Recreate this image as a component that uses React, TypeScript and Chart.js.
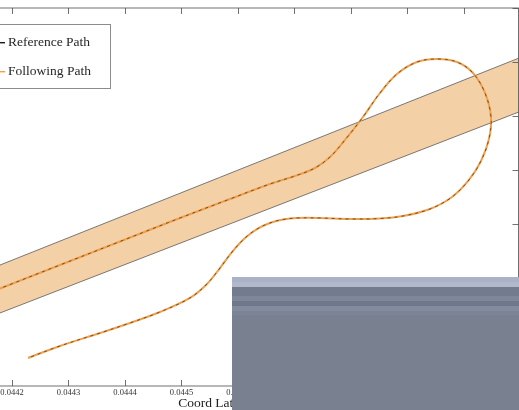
import React, { useEffect, useRef } from "react";
import { Chart, registerables } from "chart.js";

Chart.register(...registerables);

// x-axis tick values (Coord Latitude)
const xTicks = [0.0441, 0.0442, 0.0443, 0.0444, 0.0445, 0.0446, 0.0447, 0.0448, 0.0449, 0.045];
// y-axis tick values
const yTicks = [0, 0.0001, 0.0002, 0.0003, 0.0004, 0.0005, 0.0006, 0.0007];

// Path (reference path, followed by the vehicle)
const pathX = [
  0.044046, 0.0441788, 0.044285, 0.0443912, 0.0444973, 0.0445858, 0.0446566, 0.0447009,
  0.0447363, 0.0447628, 0.0447894, 0.0448212, 0.0448513, 0.0448814, 0.0449168, 0.0449522,
  0.0449876, 0.0450159, 0.0450372, 0.0450478, 0.0450442, 0.0450301, 0.0450088, 0.0449788,
  0.0449398, 0.044892, 0.0448513, 0.0447982, 0.0447451, 0.0447044, 0.0446796, 0.0446566,
  0.0446336, 0.0446124, 0.0445894, 0.0445681, 0.0445451, 0.044515, 0.0444619, 0.0444088,
  0.0443558, 0.044285, 0.0442283,
];
const pathY = [
  0.0001259, 0.0001806, 0.0002241, 0.0002676, 0.0003111, 0.0003463, 0.0003741, 0.0003889,
  0.0004037, 0.0004241, 0.0004556, 0.0004981, 0.0005426, 0.0005778, 0.0006, 0.0006056,
  0.0006, 0.0005796, 0.0005426, 0.0004981, 0.0004574, 0.0004167, 0.0003815, 0.00035,
  0.0003278, 0.0003148, 0.0003102, 0.0003093, 0.0003111, 0.0003111, 0.0003083, 0.0003019,
  0.0002907, 0.0002741, 0.0002481, 0.0002185, 0.0001889, 0.000163, 0.000137, 0.0001167,
  0.0000981, 0.0000741, 0.0000519,
];

// Tolerance corridor (band) corners
const bandX = [0.0440018, 0.0451699, 0.0451699, 0.0440018, 0.0440018];
const bandY = [0.0001502, 0.0006376, 0.0005369, 0.0000635, 0.0001502];

const X_MIN = 0.0440372;
const X_MAX = 0.0450965;
const Y_MIN = 0;
const Y_MAX = 0.0007;

const OFFSET = 100; // canvas shifted left so the plot's left part is off-page

const framePlugin = {
  id: "frame",
  afterDatasetsDraw(chart: any) {
    const { ctx, chartArea: a, scales } = chart;
    const x = scales.x;
    const y = scales.y;
    ctx.save();
    ctx.strokeStyle = "#4d4d4d";
    ctx.lineWidth = 0.8;
    ctx.strokeRect(a.left, a.top, a.right - a.left, a.bottom - a.top);
    ctx.beginPath();
    x.ticks.forEach((t: any) => {
      const px = Math.round(x.getPixelForValue(t.value)) + 0.5;
      ctx.moveTo(px, a.bottom);
      ctx.lineTo(px, a.bottom - 6);
      ctx.moveTo(px, a.top);
      ctx.lineTo(px, a.top + 6);
    });
    y.ticks.forEach((t: any) => {
      const py = Math.round(y.getPixelForValue(t.value)) + 0.5;
      ctx.moveTo(a.left, py);
      ctx.lineTo(a.left + 6, py);
      ctx.moveTo(a.right, py);
      ctx.lineTo(a.right - 6, py);
    });
    ctx.stroke();
    ctx.restore();
  },
};

const legendPlugin = {
  id: "boxLegend",
  afterDraw(chart: any) {
    const { ctx, chartArea: a } = chart;
    const items = chart.data.datasets.filter((d: any) => d.inLegend);
    const left = a.left + 6;
    const right = OFFSET + 110;
    const top = 24;
    const bottom = 88;
    ctx.save();
    ctx.fillStyle = "#ffffff";
    ctx.fillRect(left, top, right - left, bottom - top);
    ctx.strokeStyle = "#8c8c8c";
    ctx.lineWidth = 1;
    ctx.strokeRect(left + 0.5, top + 0.5, right - left, bottom - top);
    const rows = [42.7, 71.7];
    items.forEach((d: any, i: number) => {
      const yy = rows[i];
      ctx.strokeStyle = d.legendColor;
      ctx.lineWidth = 1.4;
      ctx.setLineDash([]);
      ctx.beginPath();
      ctx.moveTo(OFFSET - 22, yy);
      ctx.lineTo(OFFSET + 5, yy);
      ctx.stroke();
      ctx.fillStyle = "#262626";
      ctx.font = "13.5px 'Liberation Serif'";
      ctx.textBaseline = "middle";
      ctx.textAlign = "left";
      ctx.fillText(d.label, OFFSET + 8, yy);
    });
    ctx.restore();
  },
};

export default function App() {
  const ref = useRef<HTMLCanvasElement | null>(null);

  useEffect(() => {
    if (!ref.current) return;
    const pathData = pathX.map((v, i) => ({ x: v, y: pathY[i] }));
    const bandData = bandX.map((v, i) => ({ x: v, y: bandY[i] }));
    const chart = new Chart(ref.current, {
      type: "scatter",
      data: {
        datasets: [
          {
            label: "Reference Path",
            inLegend: true,
            legendColor: "#1a1a1a",
            data: pathData,
            showLine: true,
            borderColor: "#5a3815",
            borderWidth: 0.8,
            borderDash: [3, 4],
            pointRadius: 0,
            tension: 0.35,
            fill: false,
            order: 0,
          } as any,
          {
            label: "Following Path",
            inLegend: true,
            legendColor: "#ef9f45",
            data: pathData,
            showLine: true,
            borderColor: "#efa04c",
            borderWidth: 2,
            pointRadius: 0,
            tension: 0.35,
            fill: false,
            order: 1,
          } as any,
          {
            label: "Band",
            data: bandData,
            showLine: true,
            borderColor: "#5a5a5a",
            borderWidth: 0.8,
            backgroundColor: "rgb(243, 208, 166)",
            pointRadius: 0,
            tension: 0,
            fill: "shape",
            order: 2,
          } as any,
        ],
      },
      options: {
        animation: false,
        responsive: false,
        events: [],
        layout: { padding: { top: 8, left: 20, right: 0.5, bottom: 0 } },
        plugins: {
          legend: { display: false },
          tooltip: { enabled: false },
        },
        scales: {
          x: {
            type: "linear",
            min: X_MIN,
            max: X_MAX,
            afterBuildTicks: (s: any) => {
              s.ticks = xTicks.map((v) => ({ value: v }));
            },
            afterFit: (s: any) => {
              s.height = 24;
            },
            ticks: {
              autoSkip: false,
              maxRotation: 0,
              padding: 3,
              color: "#333",
              font: { family: "'Liberation Serif'", size: 8.5, lineHeight: 1 },
              callback: (v: any) => Number(v).toFixed(4),
            },
            grid: { display: false, drawTicks: false },
            border: { display: false },
            title: {
              display: true,
              text: "Coord Latitude",
              color: "#222",
              padding: 0,
              font: { family: "'Liberation Serif'", size: 13.5, lineHeight: 1 },
            },
          },
          y: {
            type: "linear",
            min: Y_MIN,
            max: Y_MAX,
            afterBuildTicks: (s: any) => {
              s.ticks = yTicks.map((v) => ({ value: v }));
            },
            ticks: { display: false },
            grid: { display: false, drawTicks: false },
            border: { display: false },
          },
        },
      },
      plugins: [framePlugin, legendPlugin],
    } as any);
    return () => chart.destroy();
  }, []);

  const overlay =
    "linear-gradient(to bottom, #a9b2c6 0px, #a9b2c6 5px, #b0b8ca 5px, #b0b8ca 10px, #737c8e 10px, #737c8e 19px, #7e8799 19px, #7e8799 24px, #6f788b 24px, #6f788b 29px, #838c9e 29px, #838c9e 34px, #7c8597 34px, #7c8597 38px, #79808f 38px, #79808f 100%)";

  return (
    <div style={{ position: "fixed", left: 0, top: 0, width: 519, height: 410, overflow: "hidden", background: "#fff" }}>
      <canvas
        ref={ref}
        width={619}
        height={410}
        style={{ position: "absolute", left: -OFFSET, top: 0, width: 619, height: 410 }}
      />
      <div
        style={{ position: "absolute", left: 232, top: 277, width: 287, height: 133, background: overlay }}
      />
    </div>
  );
}
